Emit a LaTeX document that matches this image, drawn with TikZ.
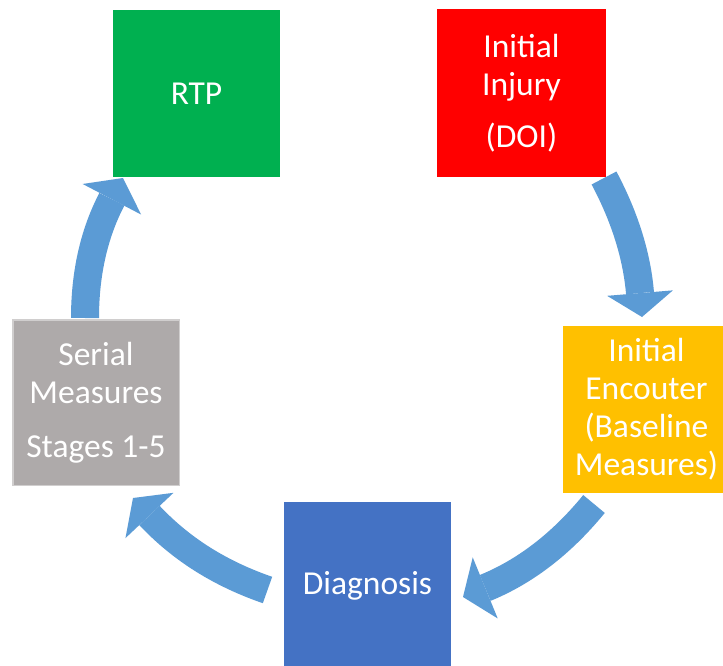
\documentclass[tikz,border=0pt]{standalone}
\usepackage{fontspec}
\setmainfont{Carlito}
\usetikzlibrary{arrows.meta}
\definecolor{cgreen}{HTML}{00B050}
\definecolor{cred}{HTML}{FF0000}
\definecolor{corange}{HTML}{FFC000}
\definecolor{cblue}{HTML}{4472C4}
\definecolor{cgray}{HTML}{AEAAAA}
\definecolor{cgraybord}{HTML}{D0CECE}
\definecolor{arrowblue}{HTML}{5B9BD5}
\begin{document}
\begin{tikzpicture}[x=1pt,y=-1pt,
  box/.style={rectangle, minimum width=167pt, minimum height=167pt, inner sep=0pt, outer sep=0pt,
    text=white, align=center, font=\fontsize{33.5}{38}\selectfont},
  cyc/.style={draw=arrowblue, line width=28pt,
    -{Triangle[length=24pt,width=66pt,line width=0pt]}}]
\clip (0,0) rectangle (723,666);
\fill[white] (0,0) rectangle (723,666);
% boxes
\node[box, fill=cgreen] (rtp) at (196.5,93.5) {RTP};
\node[box, fill=cred, minimum width=169pt, minimum height=168pt] (inj) at (521.5,93) {Initial\\Injury\\[14pt](DOI)};
\node[box, fill=corange] (enc) at (646.5,409.5) {Initial\\Encouter\\(Baseline\\Measures)};
\node[box, fill=cblue] (dia) at (367.5,585.5) {Diagnosis};
\node[box, fill=cgray, draw=cgraybord, line width=1.5pt, minimum width=166.5pt, minimum height=165.5pt] (ser) at (96,402.5) {Serial\\Measures\\[16pt]Stages 1-5};
% arrow end points
\coordinate (a1s) at (604,178);   \coordinate (a1e) at (642,317);
\coordinate (a2s) at (594,504);   \coordinate (a2e) at (463,597);
\coordinate (a3s) at (267.5,590); \coordinate (a3e) at (133,498);
\coordinate (a4s) at (85,318);    \coordinate (a4e) at (123,178);
% arrows
\draw[cyc] (a1s) .. controls (628.9,224.8) and (637.6,264.2) .. (a1e);
\draw[cyc] (a2s) .. controls (556.3,550.1) and (518.0,574.5) .. (a2e);
\draw[cyc] (a3s) .. controls (210.5,570.3) and (174.4,541.9) .. (a3e);
\draw[cyc] (a4s) .. controls (85,264.3) and (98.1,225.6) .. (a4e);
\end{tikzpicture}
\end{document}
